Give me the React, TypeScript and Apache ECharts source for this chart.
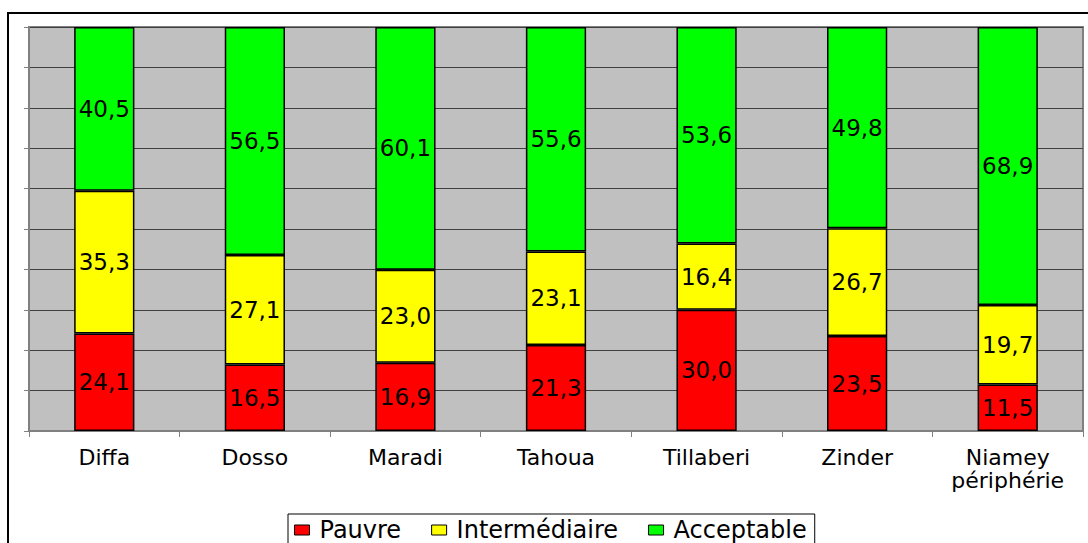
import React, { useEffect, useRef } from "react";
import * as echarts from "echarts";

const categories = ["Diffa", "Dosso", "Maradi", "Tahoua", "Tillaberi", "Zinder", "Niamey\npériphérie"];
const pauvre = [24.1, 16.5, 16.9, 21.3, 30.0, 23.5, 11.5];
const intermediaire = [35.3, 27.1, 23.0, 23.1, 16.4, 26.7, 19.7];
const acceptable = [40.5, 56.5, 60.1, 55.6, 53.6, 49.8, 68.9];
const seriesNames = ["Pauvre", "Intermédiaire", "Acceptable"];
const seriesColors = ["#FF0000", "#FFFF00", "#00FF00"];

const FONT = "DejaVu Sans";

export default function App() {
  const ref = useRef<HTMLDivElement>(null);
  useEffect(() => {
    if (!ref.current) return;
    const chart = echarts.init(ref.current, null, { renderer: "svg" });
    const raw = [pauvre, intermediaire, acceptable];
    const totals = categories.map((_, i) => raw.reduce((s, arr) => s + arr[i], 0));
    const series = raw.map((arr, si) => ({
      name: seriesNames[si],
      type: "bar",
      stack: "total",
      barWidth: "40%",
      data: arr.map((v, i) => (v / totals[i]) * 100),
      itemStyle: { color: seriesColors[si], borderColor: "#000", borderWidth: 1.5 },
      label: {
        show: true,
        position: "inside",
        color: "#000",
        fontFamily: FONT,
        fontSize: 23,
        formatter: (p: any) => arr[p.dataIndex].toFixed(1).replace(".", ","),
      },
    }));
    chart.setOption({
      animation: false,
      backgroundColor: "#FFFFFF",
      graphic: [
        {
          type: "rect",
          shape: { x: 8, y: 13, width: 1100, height: 540 },
          style: { fill: "none", stroke: "#000", lineWidth: 2 },
          silent: true,
        },
      ],
      grid: {
        left: 29,
        right: 5,
        top: 27,
        bottom: 112,
        show: true,
        backgroundColor: "#C0C0C0",
        borderColor: "#808080",
        borderWidth: 2,
      },
      legend: {
        data: seriesNames,
        top: 514,
        left: 288,
        padding: [4, 8, 14, 6],
        borderColor: "#000",
        borderWidth: 1,
        itemWidth: 15,
        itemHeight: 10,
        itemGap: 30,
        icon: "rect",
        itemStyle: { borderColor: "#000", borderWidth: 1 },
        textStyle: { fontFamily: FONT, fontSize: 24, color: "#000", padding: [0, 0, 0, 5] },
      },
      xAxis: {
        type: "category",
        data: categories,
        axisLine: { show: true, lineStyle: { color: "#808080", width: 1 } },
        axisTick: { show: true, alignWithLabel: false, length: 6, lineStyle: { color: "#808080" } },
        axisLabel: {
          color: "#000",
          fontFamily: FONT,
          fontSize: 22,
          lineHeight: 23,
          margin: 15,
          interval: 0,
        },
      },
      yAxis: {
        type: "value",
        min: 0,
        max: 100,
        interval: 10,
        axisLine: { show: true, lineStyle: { color: "#808080", width: 1 } },
        axisTick: { show: true, length: 5, lineStyle: { color: "#808080" } },
        axisLabel: { show: false },
        splitLine: { show: true, lineStyle: { color: "#404040", width: 1 } },
      },
      series,
    });
    return () => chart.dispose();
  }, []);
  return (
    <div
      ref={ref}
      style={{ position: "absolute", left: 0, top: 0, width: 1088, height: 543 }}
    />
  );
}
